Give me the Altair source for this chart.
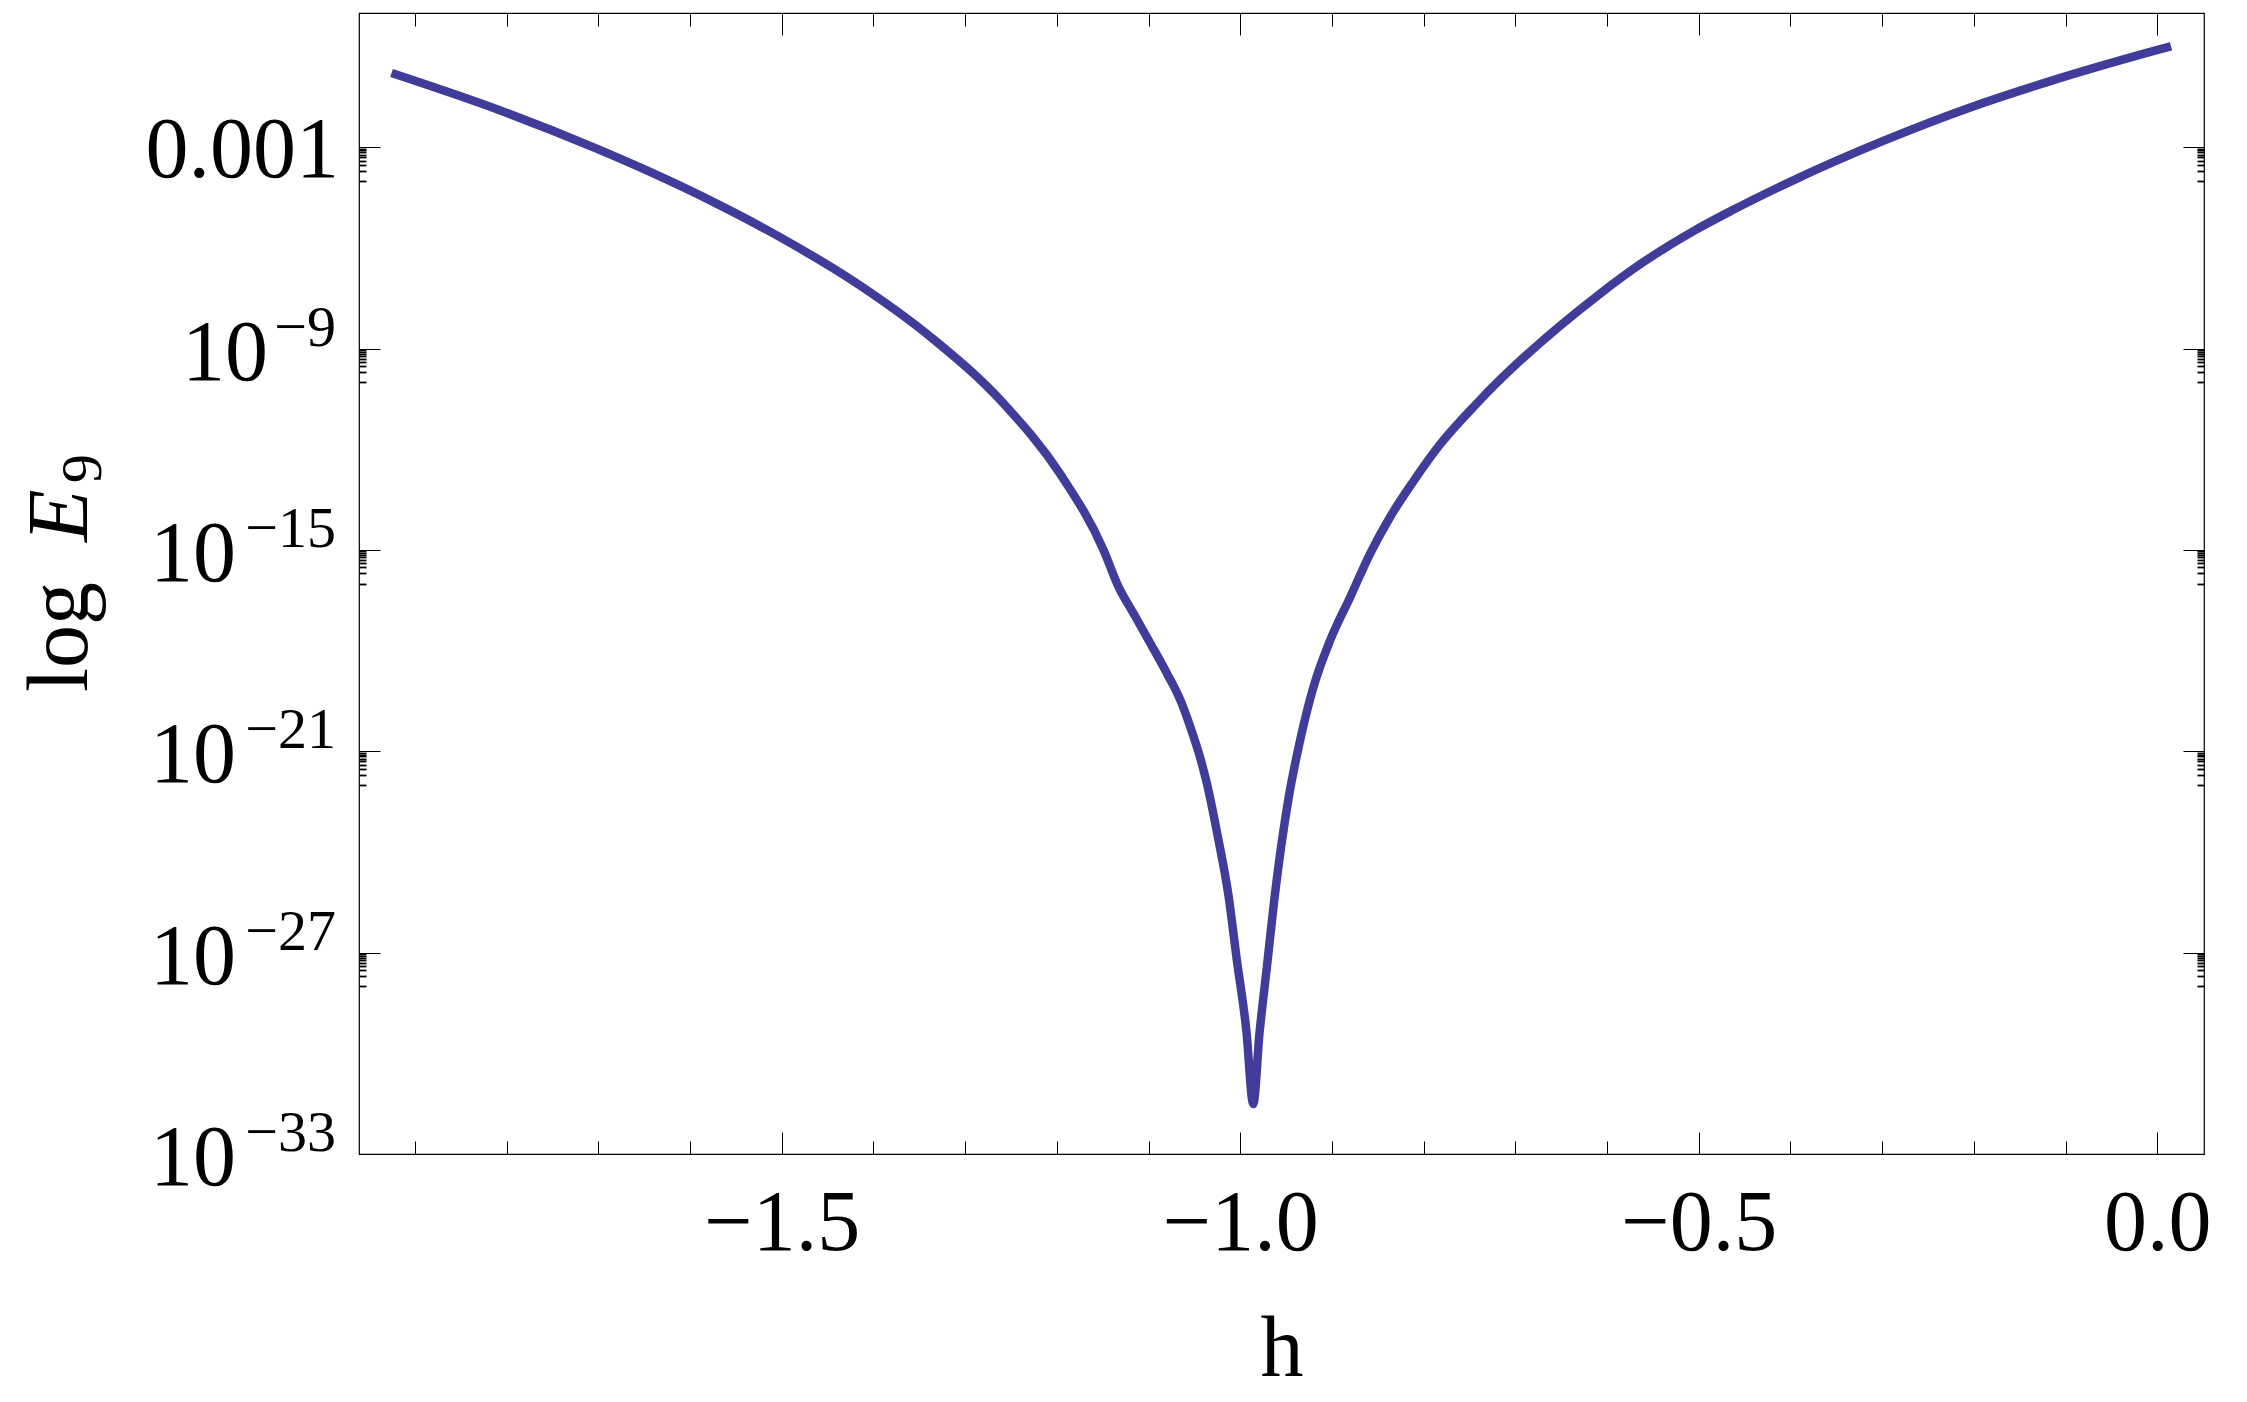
import altair as alt
import pandas as pd

# ---- data (h, log10 E9) ----
h_vals = [-1.9255, -1.8090, -1.7012, -1.649, -1.571, -1.5005, -1.4146, -1.336, -1.258,
          -1.196, -1.1491, -1.1327, -1.1164, -1.0981, -1.0799, -1.0654, -1.0545, -1.0436,
          -1.0360, -1.0251, -1.0128, -1.0038, -0.9934, -0.9858, -0.9790, -0.9709, -0.9629,
          -0.9473, -0.9346, -0.9201, -0.9019, -0.8800, -0.8582, -0.8364, -0.8110, -0.7819,
          -0.7419, -0.6074, -0.5624, -0.5039, -0.4635, -0.4004, -0.2968, -0.2024, -0.1167,
          -0.0076, 0.0150]
log10_E = [-0.79, -1.885, -3.05, -3.67, -4.68, -5.70, -7.12, -8.69, -10.64,
           -12.75, -15.00, -16.10, -16.89, -17.78, -18.68, -19.47, -20.27, -21.20,
           -22.00, -23.45, -25.30, -27.20, -29.30, -31.51, -29.40, -27.42, -25.43,
           -22.40, -20.66, -19.08, -17.69, -16.40, -15.10, -14.01, -12.95, -11.85,
           -10.63, -7.36, -6.46, -5.47, -4.88, -4.03, -2.79, -1.80, -1.03,
           -0.16, 0.01]

x_major = [-1.5, -1.0, -0.5, 0.0]
x_minor = [-1.9, -1.8, -1.7, -1.6, -1.4, -1.3, -1.2, -1.1, -0.9, -0.8, -0.7, -0.6,
           -0.4, -0.3, -0.2, -0.1]
y_major_exp = [-3, -9, -15, -21, -27, -33]
y_minor_mult = [1, 2, 3, 4, 5, 6, 7, 8, 9]

x_domain = [-1.961, 0.051]
y_domain = [1e-33, 1e1]

W, H = 1845, 1141
FONT = "Liberation Serif"
COLOR = "#3F3D99"
FS = 86
FS_EXP = 58

df = pd.DataFrame({"h": h_vals, "E": [10.0 ** v for v in log10_E]})

y_major = [10.0 ** k for k in y_major_exp]
y_minor = [m * 10.0 ** (k - 1) for k in y_major_exp if k > -33 for m in y_minor_mult]

xs = alt.Scale(domain=x_domain, nice=False, zero=False)
ys = alt.Scale(type="log", domain=y_domain, nice=False)

line = alt.Chart(df).mark_line(
    color=COLOR, strokeWidth=8.5, strokeCap="butt", strokeJoin="bevel", interpolate="monotone"
).encode(
    x=alt.X("h:Q", scale=xs, axis=alt.Axis(
        orient="bottom", values=x_major, ticks=False, tickSize=0, domain=False, grid=False,
        labelFont=FONT, labelFontSize=FS, labelColor="black", labelPadding=95,
        labelBaseline="alphabetic", labelFlush=False, labelOverlap=False,
        labelExpr="replace(format(datum.value, '.1f'), '-', '\u2212')",
        title="h", titleFont=FONT, titleFontSize=FS, titleFontWeight="normal",
        titleColor="black", titleBaseline="alphabetic", titleX=W / 2, titleY=221)),
    y=alt.Y("E:Q", scale=ys, axis=None),
)


def tick_layer(xorient, yorient, xvals, yvals, xlen, ylen, ywidth):
    return alt.Chart(df).mark_point(opacity=0).encode(
        x=alt.X("h:Q", scale=xs, axis=alt.Axis(
            orient=xorient, offset=-H, values=xvals, tickSize=xlen, tickWidth=1,
            tickColor="black", labels=False, domain=False, grid=False, title=None)),
        y=alt.Y("E:Q", scale=ys, axis=alt.Axis(
            orient=yorient, offset=-W, values=yvals, tickSize=ylen, tickWidth=ywidth,
            tickColor="black", labels=False, domain=False, grid=False, title=None)),
    )


tA = tick_layer("top", "right", x_major, y_major, 22, 21, 1)
tB = tick_layer("bottom", "left", x_major, y_major, 22, 21, 1)
tC = tick_layer("top", "right", x_minor, y_minor, 13, 7, 1.8)
tD = tick_layer("bottom", "left", x_minor, y_minor, 13, 7, 1.8)

lab_plain = pd.DataFrame({"E": [1e-3], "t": ["0.001"]})
lab_base2 = pd.DataFrame({"E": [10.0 ** k for k in y_major_exp if k <= -15],
                          "t": ["10" for k in y_major_exp if k <= -15]})
lab_base1 = pd.DataFrame({"E": [1e-9], "t": ["10"]})
lab_exp = pd.DataFrame({"E": [10.0 ** k for k in y_major_exp if k < -3],
                        "t": ["\u2212" + str(-k) for k in y_major_exp if k < -3]})


def ylabel(d, dx, dy, size):
    return alt.Chart(d).mark_text(
        font=FONT, fontSize=size, color="black", align="right", baseline="alphabetic",
        dx=dx, dy=dy
    ).encode(x=alt.value(0), y=alt.Y("E:Q", scale=ys, axis=None), text="t:N")


l0 = ylabel(lab_plain, -20, 30, FS)
l1 = ylabel(lab_base2, -123, 31, FS)
l2 = ylabel(lab_base1, -91, 31, FS)
l3 = ylabel(lab_exp, -23, -3, FS_EXP)


def ytitle(txt, ypix, xpix, size, style="normal"):
    return alt.Chart(pd.DataFrame({"t": [txt]})).mark_text(
        font=FONT, fontSize=size, color="black", align="left", baseline="alphabetic",
        angle=270, fontStyle=style
    ).encode(x=alt.value(xpix), y=alt.value(ypix), text="t:N")


yt1 = ytitle("log", 679, -272, FS)
yt2 = ytitle("E", 529, -272, FS, "italic")
yt3 = ytitle("9", 470, -258, FS_EXP)

chart = alt.layer(
    tA, tB, tC, tD, line, l0, l1, l2, l3, yt1, yt2, yt3
).resolve_axis(
    x="independent", y="independent"
).properties(
    width=W, height=H,
    padding={"left": 351, "top": 5, "right": 30, "bottom": 240},
    autosize=alt.AutoSizeParams(type="none"),
    background="white",
).configure_view(stroke="black", strokeWidth=1.2)

chart.save("out.html", embed_options={"renderer": "svg", "actions": False})
